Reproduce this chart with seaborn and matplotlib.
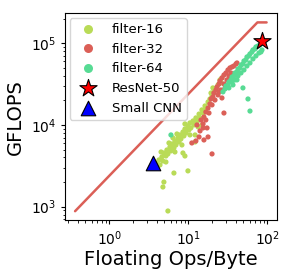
import matplotlib
matplotlib.use("Agg")
import matplotlib.pyplot as plt
import seaborn as sns
import pandas as pd

# roofline
roof_x = [0.37, 75, 98]
roof_y = [880, 1.8e5, 1.8e5]

# filter-16 points (Floating Ops/Byte, GFLOPS)
f16_x = [4.02, 4.26, 4.39, 4.64, 4.78, 4.92, 5.22, 5.37, 5.53, 5.87, 6.04, 6.22, 6.59, 6.79,
         6.99, 7.41, 7.63, 7.85, 8.08, 8.57, 8.82, 9.08, 9.35, 9.91, 10.2, 10.5, 10.8, 11.5,
         11.8, 12.5, 12.9, 13.7, 14.1, 14.9, 15.4, 16.3, 16.7, 17.8, 18.8, 20.0, 21.1, 22.4,
         23.8, 25.2, 25.9,
         4.53, 5.70, 7.19, 9.08, 6.40, 5.22, 6.79, 8.32, 10.5, 13.3,
         8.57, 9.08, 9.91, 6.59, 4.92, 4.78, 5.53, 12.2, 12.2, 14.9, 19.4, 26.7, 20.5]
f16_y = [3430, 3730, 3240, 4060, 3620, 4540, 4170, 4940, 4420, 5380, 4810, 5850, 5230, 6370,
         5690, 6940, 6190, 7550, 6730, 8200, 7330, 8930, 7980, 9730, 8690, 10600, 9190, 11200,
         10000, 12200, 10900, 13600, 12200, 15300, 14000, 17100, 15700, 19100, 20800, 22600,
         25400, 27600, 30900, 35600, 32700,
         4670, 6020, 7760, 10300, 6940, 3520, 4670, 5690, 7550, 9460,
         4540, 4170, 2740, 2580, 2000, 1740, 885, 7550, 6190, 10000, 24600, 37600, 28400]

# filter-32 points
f32_x = [11.1, 12.5, 13.7, 15.8, 17.3, 20.0, 28.3, 17.8, 15.4, 14.1, 12.9, 14.5, 15.8, 16.7,
         17.8, 18.8, 19.4, 20.5, 21.1, 22.4, 23.1, 24.5, 25.2, 26.7, 28.3, 30.0, 31.8, 33.7,
         35.8, 37.8, 40.2, 41.4, 20.0, 21.8, 23.8, 25.9, 28.3, 30.9, 32.7, 34.7, 18.3, 16.7,
         15.4, 29.2, 24.5, 26.7]
f32_y = [6020, 6370, 7130, 6550, 9190, 4420, 14000, 7130, 9190, 8450, 10000, 11500, 12500,
         14400, 16100, 18100, 20800, 22000, 24600, 26800, 29200, 31800, 34600, 37600, 40900,
         43300, 47100, 49900, 51300, 52700, 55800, 57400, 17600, 20200, 23300, 26800, 31800,
         35600, 39800, 43300, 14000, 11500, 10300, 28400, 25400, 21400]

# filter-64 points
f64_x = [27.5, 29.2, 30.0, 31.8, 32.7, 34.7, 35.8, 37.8, 39.0, 41.4, 42.6, 45.1, 46.5, 49.2,
         50.7, 53.7, 55.3, 58.6, 60.4, 64.0, 65.9, 69.9, 71.9, 76.3, 80.9, 85.7, 83.2, 35.8,
         39.0, 42.6, 46.5, 50.7, 55.3, 60.4, 65.9, 71.9, 78.5, 32.7, 36.8, 41.4,
         49.2, 57.0, 60.4, 6.04]
f64_y = [25400, 27600, 30000, 30900, 33600, 35600, 38600, 39800, 43300, 44600, 48400, 49900,
         54200, 55800, 60700, 62500, 67900, 70000, 74000, 78300, 82800, 85200, 90100, 92700,
         95300, 82800, 78300, 33600, 35600, 39800, 43300, 47100, 52700, 57400, 64300, 70000,
         76000, 28400, 30900, 35600,
         28400, 20800, 14800, 7550]

resnet_x, resnet_y = [87], [1.07e5]
cnn_x, cnn_y = [3.6], [3400]

pal = sns.color_palette("hls", 5)
colors = {"filter-16": pal[1], "filter-32": pal[0], "filter-64": pal[2]}

df = pd.concat([
    pd.DataFrame({"x": f16_x, "y": f16_y, "kind": "filter-16"}),
    pd.DataFrame({"x": f32_x, "y": f32_y, "kind": "filter-32"}),
    pd.DataFrame({"x": f64_x, "y": f64_y, "kind": "filter-64"}),
])

sns.set_style("white")
plt.rcParams["font.family"] = ["DejaVu Sans"]
plt.rcParams["text.color"] = "black"
plt.rcParams["axes.labelcolor"] = "black"
plt.rcParams["xtick.color"] = "black"
plt.rcParams["ytick.color"] = "black"

fig = plt.figure(figsize=(2.91, 2.76), dpi=100)
ax = fig.add_axes([0.223, 0.203, 0.730, 0.749])

sns.lineplot(x=roof_x, y=roof_y, sort=False, color=pal[0], lw=1.8, ax=ax, legend=False)
sns.scatterplot(data=df, x="x", y="y", hue="kind", palette=colors, s=14,
                linewidth=0, ax=ax)
sns.scatterplot(x=resnet_x, y=resnet_y, marker="*", s=170, color="red",
                edgecolor="black", linewidth=0.8, label="ResNet-50", ax=ax, zorder=5)
sns.scatterplot(x=cnn_x, y=cnn_y, marker="^", s=110, color="blue",
                edgecolor="black", linewidth=0.8, label="Small CNN", ax=ax, zorder=5)

ax.set_xscale("log")
ax.set_yscale("log")
ax.set_xlim(0.275, 134)
ax.set_ylim(687, 2.33e5)
ax.set_xlabel("Floating Ops/Byte", fontsize=14, color="black", labelpad=2)
ax.set_ylabel("GFLOPS", fontsize=14, color="black")
ax.tick_params(which="major", labelsize=10, length=3, width=0.8, direction="out",
               bottom=True, left=True, colors="black")
ax.tick_params(which="minor", length=1.8, width=0.6, direction="out",
               bottom=True, left=True, colors="black")
for sp in ax.spines.values():
    sp.set_color("black")
    sp.set_linewidth(0.8)

handles, labels = ax.get_legend_handles_labels()
leg = ax.legend(handles, labels, loc="upper left", fontsize=9.5, frameon=True,
                borderaxespad=0.35, handletextpad=0.8, labelspacing=0.5)
for h in leg.legend_handles[:3]:
    h.set_markersize(6.5)
leg.get_frame().set_edgecolor("#cccccc")
for t in leg.get_texts():
    t.set_color("black")

fig.savefig("out.png", dpi=100)
